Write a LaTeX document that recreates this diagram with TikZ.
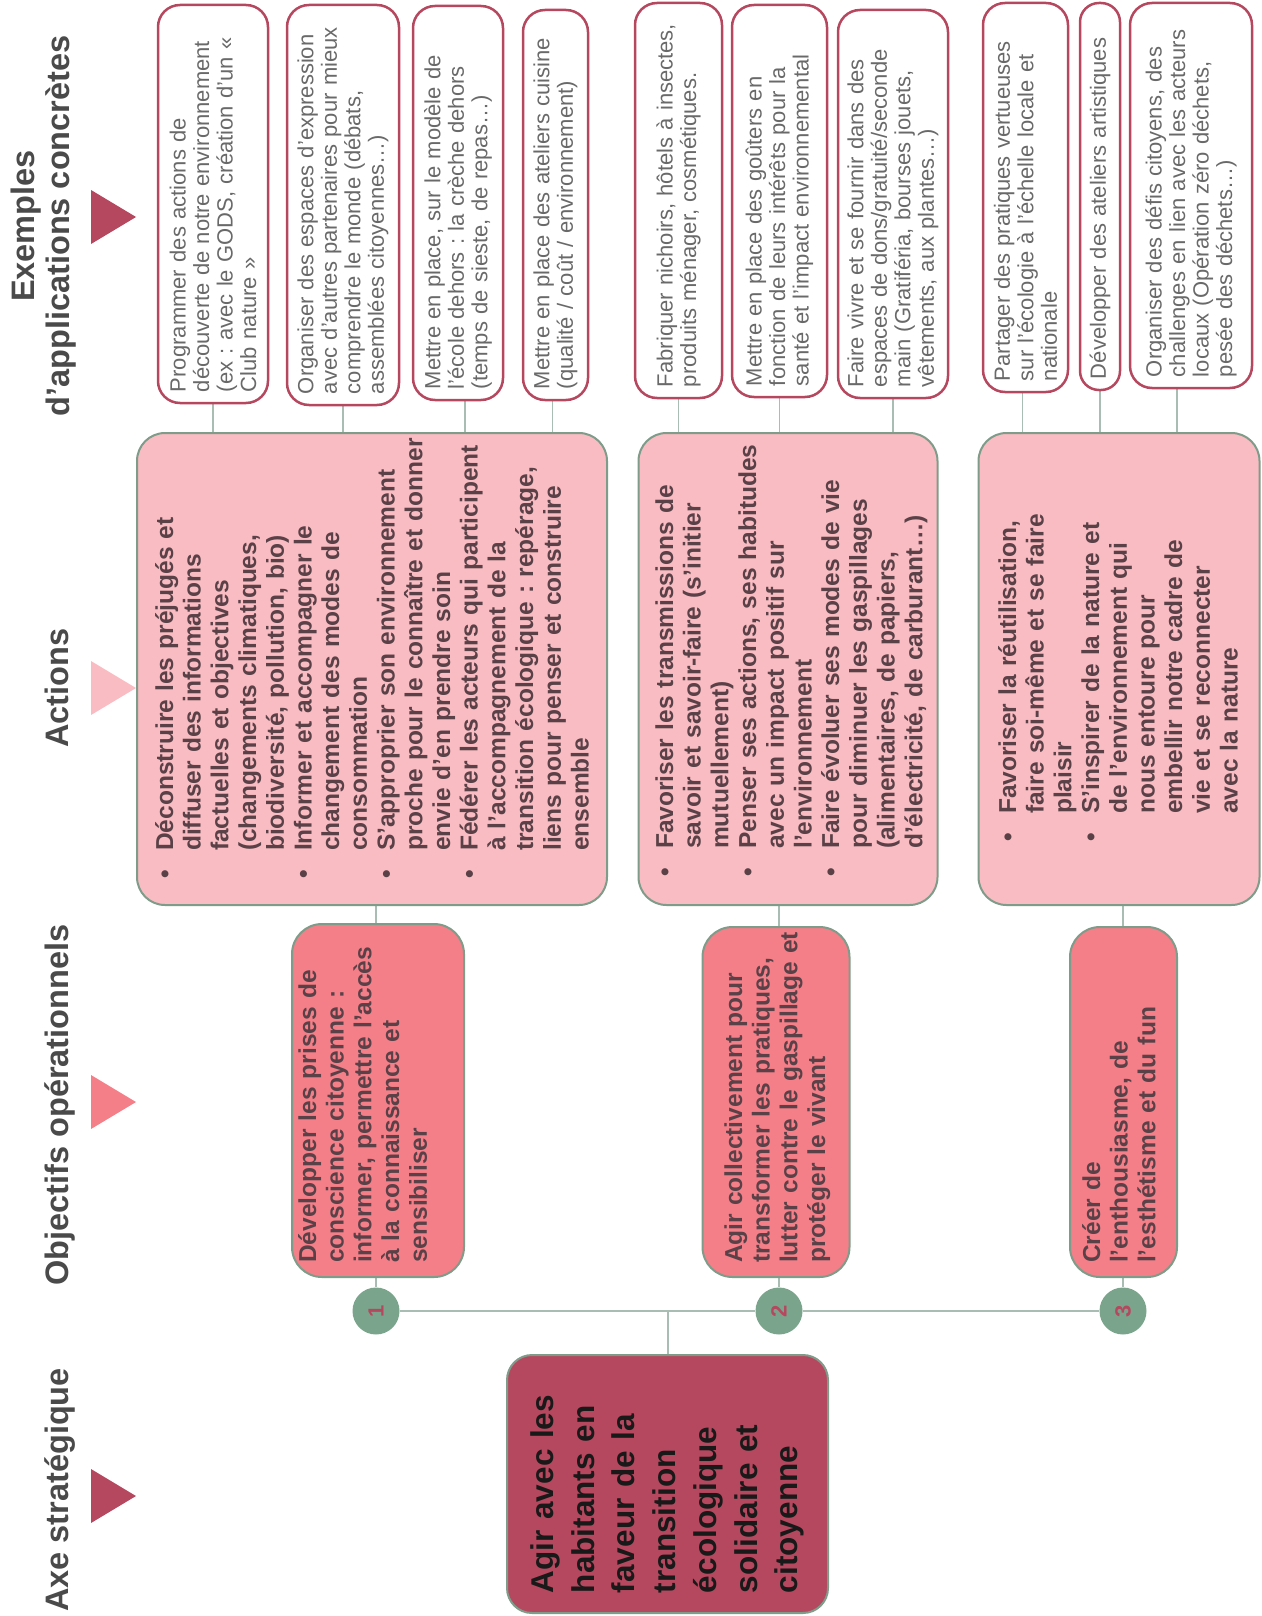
\documentclass[tikz,border=0pt]{standalone}
\usepackage{fontspec}
\setmainfont{Liberation Sans}
\usetikzlibrary{calc}
\pgfdeclarelayer{bg}
\pgfsetlayers{bg,main}
\definecolor{rose}{HTML}{B5485F}
\definecolor{pinkl}{HTML}{F9BCC2}
\definecolor{coral}{HTML}{F47F88}
\definecolor{greenc}{HTML}{7AA58C}
\definecolor{bordc}{HTML}{7E9C89}
\definecolor{connc}{HTML}{A9BDB2}
\definecolor{txtd}{HTML}{5A4148}
\definecolor{txtg}{HTML}{696969}
\definecolor{hdrc}{HTML}{4A4A4A}
\frenchspacing
\newcommand\bitem[1]{\noindent\hangindent=28pt\hangafter=1\makebox[28pt][l]{\textbullet}#1\par}
\begin{document}
\begin{tikzpicture}[x=1pt,y=-1pt,
  exbox/.style={draw=rose, line width=2.5pt, fill=white, rounded corners=22pt, rotate=90, inner sep=0pt, align=left, text=txtg, font=\frenchspacing\fontsize{22}{23.5}\selectfont},
  actbox/.style={draw=bordc, line width=2pt, fill=pinkl, rounded corners=28pt, rotate=90, inner sep=0pt},
  objbox/.style={draw=bordc, line width=2pt, fill=coral, rounded corners=30pt, rotate=90, inner sep=0pt},
  bodytxt/.style={rotate=90, anchor=base west, inner sep=0pt, align=left, text=txtd, font=\frenchspacing\bfseries\fontsize{24.5}{27.7}\selectfont, text width=470pt},
  hdr/.style={rotate=90, inner sep=0pt, text=hdrc, font=\bfseries\fontsize{32.5}{35}\selectfont, align=center},
  num/.style={circle, fill=greenc, minimum size=47pt, inner sep=0pt, rotate=90, text=rose, font=\bfseries\fontsize{22}{22}\selectfont},
  conn/.style={draw=connc, line width=1.5pt}
]
\useasboundingbox (0,0) rectangle (1261,1616);

% headers
\node[hdr] (hEx) at (44,226) {Exemples\\d'applications concrètes};
\node[hdr, anchor=base] (hAct) at (68,688) {Actions};
\node[hdr, anchor=base] (hObj) at (68,1105) {Objectifs opérationnels};
\node[hdr, anchor=base] (hAxe) at (68,1490) {Axe stratégique};
\fill[rose] (91,190) -- (91,244) -- (136,217) -- cycle;
\fill[pinkl] (91,661) -- (91,715) -- (136,688) -- cycle;
\fill[coral] (91,1075) -- (91,1129) -- (136,1102) -- cycle;
\fill[rose] (91,1469) -- (91,1523) -- (136,1496) -- cycle;

% example boxes
\node[exbox, minimum width=398pt, minimum height=110pt, text width=376pt] (A1) at (213,204)
 {Programmer des actions de\\découverte de notre environnement\\(ex : avec le GODS, création d'un «\\Club nature »};
\node[exbox, minimum width=400pt, minimum height=112pt, text width=378pt] (A2) at (343,205)
 {Organiser des espaces d'expression\\avec d'autres partenaires pour mieux\\comprendre le monde (débats,\\assemblées citoyennes…)};
\node[exbox, minimum width=394pt, minimum height=90pt, text width=372pt] (A3) at (458,203)
 {Mettre en place, sur le modèle de\\l'école dehors : la crèche dehors\\(temps de sieste, de repas…)};
\node[exbox, minimum width=390pt, minimum height=65pt, text width=368pt] (A4) at (555.5,205)
 {Mettre en place des ateliers cuisine\\(qualité / coût / environnement)};
\node[exbox, minimum width=395pt, minimum height=87pt, text width=373pt] (B1) at (678.5,200.5)
 {Fabriquer nichoirs, hôtels à insectes,\\produits ménager, cosmétiques.};
\node[exbox, minimum width=392pt, minimum height=95pt, text width=370pt] (B2) at (779.5,201)
 {Mettre en place des goûters en\\fonction de leurs intérêts pour la\\santé et l'impact environnemental};
\node[exbox, minimum width=388pt, minimum height=110pt, text width=366pt] (B3) at (893,204)
 {Faire vivre et se fournir dans des\\espaces de dons/gratuité/seconde\\main (Gratiféria, bourses jouets,\\vêtements, aux plantes…)};
\node[exbox, minimum width=389pt, minimum height=85pt, text width=367pt] (C1) at (1025.5,197.5)
 {Partager des pratiques vertueuses\\sur l'écologie à l'échelle locale et\\nationale};
\node[exbox, rounded corners=19pt, minimum width=387pt, minimum height=40pt, text width=365pt] (C2) at (1100,196.5)
 {Développer des ateliers artistiques};
\node[exbox, minimum width=385pt, minimum height=122pt, text width=363pt] (C3) at (1191,195.5)
 {Organiser des défis citoyens, des\\challenges en lien avec les acteurs\\locaux (Opération zéro déchets,\\pesée des déchets…)};

% action boxes
\node[actbox, minimum width=472pt, minimum height=470pt] (Act1) at (372,669) {};
\node[actbox, minimum width=472pt, minimum height=299pt] (Act2) at (788,669) {};
\node[actbox, minimum width=472pt, minimum height=281pt] (Act3) at (1119,669) {};
\node[bodytxt] (Act1t) at (173,879) {%
\bitem{Déconstruire les préjugés et\newline diffuser des informations\newline factuelles et objectives\newline (changements climatiques,\newline biodiversité, pollution, bio)}%
\bitem{Informer et accompagner le\newline changement des modes de\newline consommation}%
\bitem{S'approprier son environnement\newline proche pour le connaître et donner\newline envie d'en prendre soin}%
\bitem{Fédérer les acteurs qui participent\newline à l'accompagnement de la\newline transition écologique : repérage,\newline liens pour penser et construire\newline ensemble}};
\node[bodytxt] (Act2t) at (673,877) {%
\bitem{Favoriser les transmissions de\newline savoir et savoir-faire (s'initier\newline mutuellement)}%
\bitem{Penser ses actions, ses habitudes\newline avec un impact positif sur\newline l'environnement}%
\bitem{Faire évoluer ses modes de vie\newline pour diminuer les gaspillages\newline (alimentaires, de papiers,\newline d'électricité, de carburant…)}};
\node[bodytxt] (Act3t) at (1016,842) {%
\bitem{Favoriser la réutilisation,\newline faire soi-même et se faire\newline plaisir}%
\bitem{S'inspirer de la nature et\newline de l'environnement qui\newline nous entoure pour\newline embellir notre cadre de\newline vie et se reconnecter\newline avec la nature}};

% objective boxes
\node[objbox, minimum width=353pt, minimum height=172pt] (Obj1) at (378,1100.5) {};
\node[objbox, minimum width=350pt, minimum height=147pt] (Obj2) at (776,1102) {};
\node[objbox, minimum width=350pt, minimum height=107pt] (Obj3) at (1123.5,1102) {};
\node[bodytxt] (Obj1t) at (316,1263) {Développer les prises de\\conscience citoyenne :\\informer, permettre l'accès\\à la connaissance et\\sensibiliser};
\node[bodytxt] (Obj2t) at (742,1263) {Agir collectivement pour\\transformer les pratiques,\\lutter contre le gaspillage et\\protéger le vivant};
\node[bodytxt] (Obj3t) at (1100,1263) {Créer de\\l'enthousiasme, de\\l'esthétisme et du fun};

% numbers
\node[num] (N1) at (376,1311) {1};
\node[num] (N2) at (779,1311) {2};
\node[num] (N3) at (1123,1311) {3};

% main box
\node[rotate=90, draw=bordc, line width=2pt, fill=rose, rounded corners=25pt, inner sep=0pt,
  minimum width=258pt, minimum height=321pt, text width=218pt, align=left, text=black!90,
  font=\bfseries\fontsize{31.5}{40.7}\selectfont] (Main) at (667.5,1484)
 {Agir avec les\\habitants en\\faveur de la\\transition\\écologique\\solidaire et\\citoyenne};
\coordinate (J) at (668,1311);

\begin{pgfonlayer}{bg}
\draw[conn] (A1.west) -- (A1.west |- Act1.east);
\draw[conn] (A2.west) -- (A2.west |- Act1.east);
\draw[conn] ($(A3.west)+(7,0)$) -- ($(A3.west |- Act1.east)+(7,0)$);
\draw[conn] ($(A4.west)+(-3,0)$) -- ($(A4.west |- Act1.east)+(-3,0)$);
\draw[conn] (B1.west) -- (B1.west |- Act2.east);
\draw[conn] (B2.west) -- (B2.west |- Act2.east);
\draw[conn] (B3.west) -- (B3.west |- Act2.east);
\draw[conn] ($(C1.west)+(-3,0)$) -- ($(C1.west |- Act3.east)+(-3,0)$);
\draw[conn] (C2.west) -- (C2.west |- Act3.east);
\draw[conn] ($(C3.west)+(-14,0)$) -- ($(C3.west |- Act3.east)+(-14,0)$);
\draw[conn] (N1 |- Act1.west) -- (N1 |- Obj1.east);
\draw[conn] (N2 |- Act2.west) -- (N2 |- Obj2.east);
\draw[conn] (N3 |- Act3.west) -- (N3 |- Obj3.east);
\draw[conn] (N1 |- Obj1.west) -- (N1);
\draw[conn] (N2 |- Obj2.west) -- (N2);
\draw[conn] (N3 |- Obj3.west) -- (N3);
\draw[conn] (N1) -- (N2) -- (N3);
\draw[conn] (J) -- (J |- Main.east);
\end{pgfonlayer}
\end{tikzpicture}
\end{document}
